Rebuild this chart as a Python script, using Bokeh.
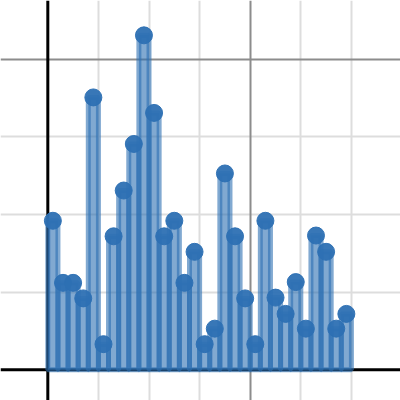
from bokeh.plotting import figure
from bokeh.models import Range1d, Span, Grid, FixedTicker, ColumnDataSource
from bokeh.embed import file_html
from bokeh.resources import INLINE

bin_centers = [0.1, 0.3, 0.5, 0.7, 0.9, 1.1, 1.3, 1.5, 1.7, 1.9,
               2.1, 2.3, 2.5, 2.7, 2.9, 3.1, 3.3, 3.5, 3.7, 3.9,
               4.1, 4.3, 4.5, 4.7, 4.9, 5.1, 5.3, 5.5, 5.7, 5.9]
bin_values = [1.92, 1.12, 1.12, 0.92, 3.51, 0.33, 1.72, 2.31, 2.91, 4.31,
              3.31, 1.72, 1.92, 1.12, 1.52, 0.33, 0.53, 2.53, 1.72, 0.92,
              0.33, 1.92, 0.93, 0.72, 1.13, 0.53, 1.73, 1.52, 0.53, 0.72]
minor_x = [1, 2, 3, 5, 6]
major_x = [4]
minor_y = [1, 2, 3]
major_y = [4]

src = ColumnDataSource(data=dict(x=bin_centers, y=bin_values))

p = figure(width=400, height=400, output_backend="svg", toolbar_location=None,
           x_axis_type=None, y_axis_type=None,
           x_range=Range1d(-0.935, 6.970), y_range=Range1d(-0.396, 4.759),
           min_border=0, outline_line_color=None)
p.background_fill_color = "white"
p.border_fill_color = "white"

p.add_layout(Grid(dimension=0, ticker=FixedTicker(ticks=minor_x),
                  grid_line_color="#dddddd", grid_line_width=2))
p.add_layout(Grid(dimension=1, ticker=FixedTicker(ticks=minor_y),
                  grid_line_color="#dddddd", grid_line_width=2))
p.add_layout(Grid(dimension=0, ticker=FixedTicker(ticks=major_x),
                  grid_line_color="#8c8c8c", grid_line_width=2))
p.add_layout(Grid(dimension=1, ticker=FixedTicker(ticks=major_y),
                  grid_line_color="#8c8c8c", grid_line_width=2))
p.add_layout(Span(location=0, dimension="height", line_color="black",
                  line_width=3, level="underlay"))
p.add_layout(Span(location=0, dimension="width", line_color="black",
                  line_width=3, level="underlay"))

p.vbar(x="x", top="y", bottom=0, width=0.2, source=src,
       fill_color="#2d70b3", fill_alpha=0.6,
       line_color="#2d70b3", line_alpha=0.6, line_width=5)
p.scatter(x="x", y="y", source=src, size=17, marker="circle",
          fill_color="#2d70b3", line_color="#2d70b3", fill_alpha=0.95, line_alpha=0.95)

open("out.html", "w").write(file_html(p, INLINE))
